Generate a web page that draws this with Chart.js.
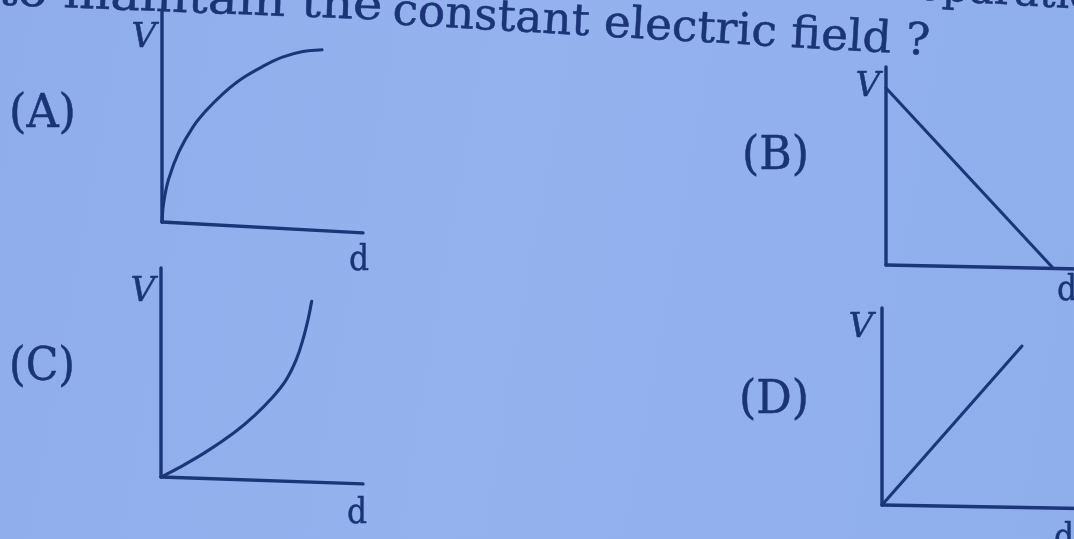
<!DOCTYPE html>
<html>
<head>
<meta charset="utf-8">
<script src="https://cdn.jsdelivr.net/npm/chart.js@4.4.1/dist/chart.umd.min.js"></script>
<style>
  html, body { margin:0; padding:0; width:1074px; height:539px; overflow:hidden; }
  body { background: linear-gradient(100deg, #8fadea 0%, #94b2ee 45%, #8eaeec 100%); position:relative; }
  #wrap { position:absolute; left:0; top:0; width:1074px; height:539px; filter: blur(0.4px); }
  canvas { position:absolute; }
  svg { position:absolute; left:0; top:0; pointer-events:none; }
  .serif { font-family: "DejaVu Serif", "Liberation Serif", serif; fill:#1a3476; stroke:#1a3476; stroke-width:0.5px; }
</style>
</head>
<body>
<div id="wrap">
  <canvas id="cA"></canvas>
  <canvas id="cB"></canvas>
  <canvas id="cC"></canvas>
  <canvas id="cD"></canvas>
  <svg id="txt" width="1074" height="539" xmlns="http://www.w3.org/2000/svg"></svg>
</div>
<script>
// ---------------- DATA (d and V in axis-length units) ----------------
const optionLabels = ["(A)", "(B)", "(C)", "(D)"];
const yAxisLabel = "V";
const xAxisLabel = "d";
const questionLeft = "to maintain the";
const questionRight = "constant electric field ?";
const prevLineFragment = "separation";

// (A) rising, saturating curve
const curveA_d = [0, 0.008, 0.033, 0.085, 0.153, 0.222, 0.307, 0.393, 0.496, 0.599, 0.701, 0.796];
const curveA_V = [0, 0.09, 0.204, 0.336, 0.451, 0.533, 0.614, 0.68, 0.738, 0.785, 0.812, 0.82];
// (B) straight line falling
const lineB_d = [0, 0.856];
const lineB_V = [0.894, -0.01];
// (C) rising, upward-curving
const curveC_d = [0, 0.09, 0.223, 0.363, 0.464, 0.55, 0.618, 0.669, 0.703, 0.729, 0.746];
const curveC_V = [0, 0.045, 0.12, 0.213, 0.295, 0.379, 0.462, 0.56, 0.659, 0.758, 0.841];
// (D) straight line through origin
const lineD_d = [0, 0.707];
const lineD_V = [0, 0.807];
// axis lines (the photographed d-axes sag slightly)
const axisDropA = -0.052, axisDropB = -0.02, axisDropC = -0.033, axisDropD = -0.018;

// ---------------- LAYOUT ----------------
const INK = "#1a3679";
const PAD = 20;
const layouts = {
  A: { ox:162, oy:222, ux:201, uy:210 },
  B: { ox:886, oy:265, ux:194, uy:198 },
  C: { ox:161, oy:477, ux:202, uy:209 },
  D: { ox:882, oy:505, ux:198, uy:197 }
};

function pts(xs, ys){ return xs.map((x,i)=>({x:x, y:ys[i]})); }

function makeChart(id, L, curve, drop, smooth){
  const c = document.getElementById(id);
  const w = L.ux + 2*PAD, h = L.uy + 2*PAD;
  c.width = w; c.height = h;
  c.style.left = (L.ox - PAD) + "px";
  c.style.top = (L.oy - L.uy - PAD) + "px";
  c.style.width = w + "px"; c.style.height = h + "px";
  const lineStyle = { showLine:true, pointRadius:0, borderColor:INK, backgroundColor:INK, fill:false, clip:false };
  return new Chart(c, {
    type:'scatter',
    data:{ datasets:[
      Object.assign({ data: pts([0,0],[0,1]), borderWidth:3.4 }, lineStyle),
      Object.assign({ data: pts([0,1],[0,drop]), borderWidth:3.4 }, lineStyle),
      Object.assign({ data: curve, borderWidth:3.1, tension: smooth ? 0.4 : 0 }, lineStyle)
    ]},
    options:{
      responsive:false, animation:false, devicePixelRatio:1,
      layout:{ padding:PAD },
      plugins:{ legend:{display:false}, tooltip:{enabled:false}, title:{display:false} },
      scales:{
        x:{ type:'linear', display:false, min:0, max:1 },
        y:{ type:'linear', display:false, min:0, max:1 }
      },
      elements:{ line:{ borderCapStyle:'round', borderJoinStyle:'round', capBezierPoints:false } }
    }
  });
}

makeChart('cA', layouts.A, pts(curveA_d, curveA_V), axisDropA, true);
makeChart('cB', layouts.B, pts(lineB_d, lineB_V), axisDropB, false);
makeChart('cC', layouts.C, pts(curveC_d, curveC_V), axisDropC, true);
makeChart('cD', layouts.D, pts(lineD_d, lineD_V), axisDropD, false);

// ---------------- TEXT ----------------
const NS = "http://www.w3.org/2000/svg";
const svg = document.getElementById('txt');
function addText(str, x, y, opts){
  const t = document.createElementNS(NS, 'text');
  t.setAttribute('x', x); t.setAttribute('y', y);
  t.setAttribute('class', 'serif');
  t.setAttribute('font-size', opts.size);
  if (opts.italic) t.setAttribute('font-style', 'italic');
  if (opts.anchor) t.setAttribute('text-anchor', opts.anchor);
  if (opts.len) { t.setAttribute('textLength', opts.len); t.setAttribute('lengthAdjust', 'spacingAndGlyphs'); }
  if (opts.rot) t.setAttribute('transform', opts.rot);
  t.textContent = str;
  svg.appendChild(t);
}
const ROT = "rotate(3.3 392 24)";
addText(questionLeft, -3, 20, { size:44, len:385, rot:"rotate(2.2 392 20)" });
addText(questionRight, 392, 24, { size:44, len:538, rot:ROT });
addText(prevLineFragment, 893, -31, { size:42, rot:ROT });

// option labels
addText(optionLabels[0], 9, 127, { size:46, len:67 });
addText(optionLabels[1], 742, 169, { size:46, len:67 });
addText(optionLabels[2], 9, 380, { size:46, len:66 });
addText(optionLabels[3], 739, 413, { size:46, len:70 });

// axis labels
addText(yAxisLabel, 156, 47, { size:34, italic:true, anchor:'end' });
addText(yAxisLabel, 880, 96, { size:34, italic:true, anchor:'end' });
addText(yAxisLabel, 155, 301, { size:34, italic:true, anchor:'end' });
addText(yAxisLabel, 873, 337, { size:34, italic:true, anchor:'end' });

addText(xAxisLabel, 349, 270, { size:36, len:20 });
addText(xAxisLabel, 1057, 300, { size:36, len:20 });
addText(xAxisLabel, 347, 523, { size:36, len:20 });
addText(xAxisLabel, 1054, 548, { size:36, len:20 });
</script>
</body>
</html>
